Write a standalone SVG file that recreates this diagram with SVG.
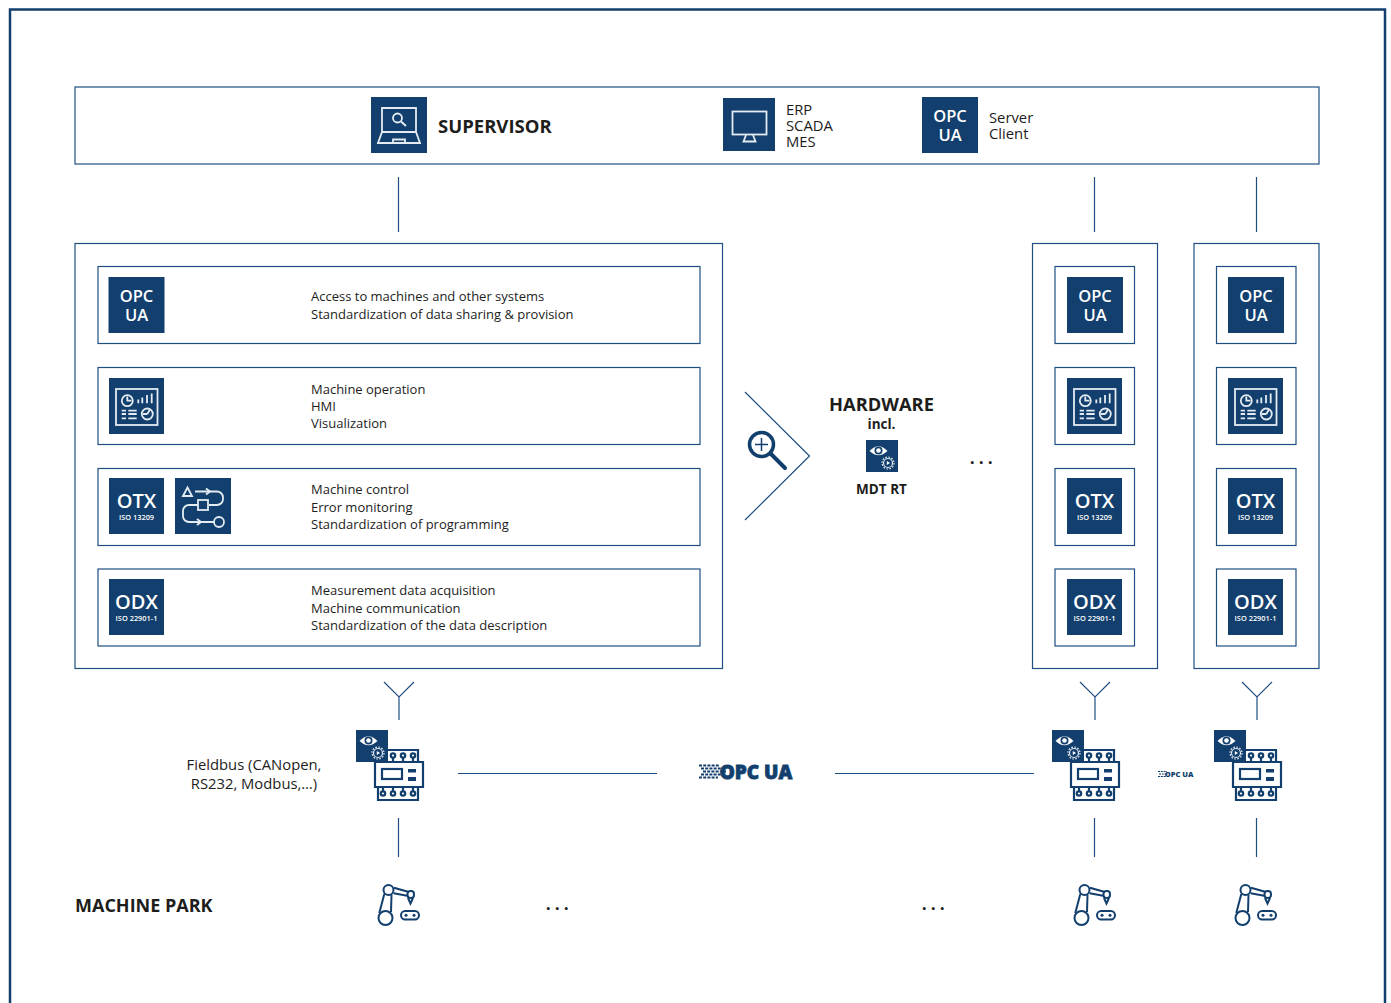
<svg xmlns="http://www.w3.org/2000/svg" width="1391" height="1003" viewBox="0 0 1391 1003">
<style>
text{font-family:"Open Sans","Noto Sans","Liberation Sans",sans-serif;fill:#1d1d1b}
.box{fill:#fff;stroke:#1f4f82;stroke-width:1.2}
.conn{fill:none;stroke:#1f4f82;stroke-width:1.2}
.tile{fill:#123f6d}
.w{fill:none;stroke:#e4ebf2;stroke-width:1.8}
.wt{fill:#fff;font-weight:600;text-anchor:middle}
.d{fill:none;stroke:#123f6d;stroke-width:2.2}
.body{font-size:13px}
.side{font-size:14.800px}
.dots{font-size:20px;font-weight:600;letter-spacing:3.500px;text-anchor:middle}
.h{font-weight:700}
.logo{fill:#123f6d;font-weight:800;text-anchor:middle}
</style>
<defs>
<g id="opc"><rect class="tile" width="56" height="56"/><text class="wt" x="28" y="25" font-size="16.500">OPC</text><text class="wt" x="28" y="44" font-size="16.500">UA</text></g>
<g id="hmi"><rect class="tile" width="55" height="56"/><g class="w"><rect x="7" y="11" width="41.500" height="36"/><circle cx="18.300" cy="22.700" r="5.500"/><path d="M18.300 18.500V22.700H22.500M29.300 25.300V21.500M33.300 25.300V19.500M38 25.300V17M42.700 25.300V15.500M12.700 32.700H17M19.300 32.700H27.700M12.700 36H17M19.300 36H27.700M12.700 40.300H17M19.300 40.300H27.700"/><circle cx="38.300" cy="36" r="5.500"/><path d="M38.300 36L41 31.500M38.300 36H34"/></g></g>
<g id="otx"><rect class="tile" width="55" height="56"/><text class="wt" x="27.500" y="30" font-size="20">OTX</text><text class="wt" x="27.500" y="42" font-size="7.400">ISO 13209</text></g>
<g id="odx"><rect class="tile" width="55" height="56"/><text class="wt" x="27.500" y="30" font-size="20">ODX</text><text class="wt" x="27.500" y="42" font-size="7.400">ISO 22901-1</text></g>
<g id="flow"><rect class="tile" width="56" height="56"/><g class="w"><path d="M8 18L12.500 9.500L17 18Z"/><path d="M20 13.500H42A6 6 0 0 1 48 19.500V21A6 6 0 0 1 42 27H34M23 27H14A6 6 0 0 0 8 33V38A6 6 0 0 0 14 44H39"/><rect x="23" y="22" width="10" height="10"/><circle cx="44" cy="44" r="5"/><path d="M31 10.500L35 13.500L31 16.500M22 41L26 44L22 47"/></g></g>
<g id="mdt"><rect class="tile" width="32" height="32"/><path d="M3.500 11Q12.500 1.500 21.500 11Q12.500 19.500 3.500 11Z" fill="#fff"/><circle cx="12.500" cy="10.500" r="4" fill="#123f6d"/><circle cx="12.500" cy="10.500" r="2.300" fill="#fff"/><circle cx="22" cy="23" r="4.500" class="w" style="stroke-width:1.200"/><circle cx="22" cy="23" r="6" fill="none" stroke="#e4ebf2" stroke-width="1.200" stroke-dasharray="1.600 1.500"/><path d="M20.800 21L24 23L20.800 25Z" fill="#fff"/></g>
<g id="device"><g class="d"><path d="M3 12V0H43V12M0 12H48V37H0ZM3 37V50H43V37"/><rect x="7" y="19" width="20" height="10"/><path d="M18 12V8M28 12V8M38 12V8M8 37V41M18 37V41M28 37V41M38 37V41"/><circle cx="18" cy="5.500" r="2.200"/><circle cx="28" cy="5.500" r="2.200"/><circle cx="38" cy="5.500" r="2.200"/><circle cx="8" cy="43.500" r="2.200"/><circle cx="18" cy="43.500" r="2.200"/><circle cx="28" cy="43.500" r="2.200"/><circle cx="38" cy="43.500" r="2.200"/></g><rect x="33" y="19" width="8" height="3.500" fill="#123f6d"/><rect x="33" y="27" width="8" height="4" fill="#123f6d"/></g>
<g id="fieldbus"><use href="#device" x="19" y="20"/><use href="#mdt" x="0" y="0"/></g>
<g id="robot"><g fill="none" stroke="#123f6d" stroke-width="2"><circle cx="7" cy="33" r="7"/><circle cx="10" cy="5" r="5"/><path d="M5.800 9L0.800 28M13 10L12.500 27M15.500 2.700L29.500 6.700M15 8.300L28.800 10.700"/><rect x="29" y="6" width="6.500" height="7" rx="3"/><path d="M29.500 13L32 18.500L34.500 13"/><rect x="22.500" y="26" width="18" height="8.500" rx="4.200"/></g><circle cx="27.500" cy="30.200" r="1.500" fill="#123f6d"/><circle cx="35.500" cy="30.200" r="1.500" fill="#123f6d"/></g>
<path id="fork" class="conn" d="M0 0L15 15L30 0M15 15V38"/>
</defs>
<rect width="1391" height="1003" fill="#fff"/>
<path d="M10 1003V9.500H1385V1003" fill="none" stroke="#123f6d" stroke-width="2.500"/>

<g id="connectors">
<path class="conn" d="M398.500 177V232M1094.500 177V232M1256.500 177V232"/>
<path class="conn" d="M745 392L809.500 456L745 520"/>
<use href="#fork" x="384" y="682"/><use href="#fork" x="1080" y="682"/><use href="#fork" x="1242" y="682"/>
<path class="conn" d="M458 773.500H657M835 773.500H1034"/>
<path class="conn" d="M398.500 818V857M1094.500 818V857M1256.500 818V857"/>
</g>

<g id="supervisor">
<rect class="box" x="75" y="87" width="1244" height="77"/>
<g id="supervisor-icon"><rect class="tile" x="371" y="97" width="56" height="56"/><g class="w"><path d="M382 132V108H416V132M378 143L382 132H416L420 143ZM393 143V139.500H405V143"/><circle cx="397.500" cy="118" r="4.500"/><path d="M401 121.500L406 126" stroke-width="2"/></g></g>
<text class="h" x="438" y="133" font-size="18.500">SUPERVISOR</text>
<g id="erp-icon"><rect class="tile" x="723" y="98" width="52" height="53"/><g class="w"><rect x="732.500" y="111.500" width="34" height="23"/><path d="M746 135L743.500 141.500H755.500L753 135"/></g></g>
<text class="side" x="786" y="115">ERP</text><text class="side" x="786" y="131">SCADA</text><text class="side" x="786" y="147">MES</text>
<use href="#opc" x="922" y="97"/>
<text class="side" x="989" y="123">Server</text><text class="side" x="989" y="139">Client</text>
</g>

<g id="main-panel">
<rect class="box" x="75" y="243.500" width="647.500" height="425"/>
<rect class="box" x="98" y="266.500" width="602" height="77"/><use href="#opc" x="108.500" y="277"/>
<text class="body" x="311" y="301">Access to machines and other systems</text><text class="body" x="311" y="319">Standardization of data sharing &amp; provision</text>
<rect class="box" x="98" y="367.500" width="602" height="77"/><use href="#hmi" x="109" y="378"/>
<text class="body" x="311" y="394">Machine operation</text><text class="body" x="311" y="411">HMI</text><text class="body" x="311" y="428">Visualization</text>
<rect class="box" x="98" y="468.500" width="602" height="77"/><use href="#otx" x="109" y="478"/><use href="#flow" x="175" y="478"/>
<text class="body" x="311" y="494">Machine control</text><text class="body" x="311" y="512">Error monitoring</text><text class="body" x="311" y="529">Standardization of programming</text>
<rect class="box" x="98" y="569" width="602" height="77"/><use href="#odx" x="109" y="579"/>
<text class="body" x="311" y="595">Measurement data acquisition</text><text class="body" x="311" y="613">Machine communication</text><text class="body" x="311" y="630">Standardization of the data description</text>
</g>

<g id="zoom-icon" fill="none" stroke="#123f6d"><circle cx="761.500" cy="444.500" r="12" stroke-width="3.500"/><path d="M770.500 453.500L785 468" stroke-width="4" stroke-linecap="round"/><path d="M755 444.500H768M761.500 438V451" stroke-width="1.500"/></g>

<g id="hardware">
<text class="h" x="881.500" y="411" font-size="18.300" text-anchor="middle">HARDWARE</text>
<text class="h" x="881.500" y="429" font-size="13.500" text-anchor="middle">incl.</text>
<use href="#mdt" x="866" y="440"/>
<text class="h" x="881.500" y="494" font-size="13.500" text-anchor="middle">MDT RT</text>
</g>
<text id="dots-hw" class="dots" x="983" y="464">...</text>

<g id="column-a">
<rect class="box" x="1032.500" y="243.500" width="125" height="425"/>
<rect class="box" x="1055" y="266.500" width="79.500" height="77"/><use href="#opc" x="1067" y="277"/>
<rect class="box" x="1055" y="367.500" width="79.500" height="77"/><use href="#hmi" x="1067" y="378"/>
<rect class="box" x="1055" y="468.500" width="79.500" height="77"/><use href="#otx" x="1067" y="478"/>
<rect class="box" x="1055" y="569" width="79.500" height="77"/><use href="#odx" x="1067" y="579"/>
</g>
<g id="column-b">
<rect class="box" x="1194" y="243.500" width="125" height="425"/>
<rect class="box" x="1216.500" y="266.500" width="79.500" height="77"/><use href="#opc" x="1228" y="277"/>
<rect class="box" x="1216.500" y="367.500" width="79.500" height="77"/><use href="#hmi" x="1228" y="378"/>
<rect class="box" x="1216.500" y="468.500" width="79.500" height="77"/><use href="#otx" x="1228" y="478"/>
<rect class="box" x="1216.500" y="569" width="79.500" height="77"/><use href="#odx" x="1228" y="579"/>
</g>

<g id="fieldbus-row">
<text class="side" x="254" y="770" text-anchor="middle">Fieldbus (CANopen,</text>
<text class="side" x="254" y="789" text-anchor="middle">RS232, Modbus,…)</text>
<use href="#fieldbus" x="356" y="730"/><use href="#fieldbus" x="1052" y="730"/><use href="#fieldbus" x="1214" y="730"/>
<g id="opcua-logo"><path d="M699 765.500H720M701 768.500H724M703 771.500H726M701 774.500H722M699 777.500H718" stroke="#123f6d" stroke-width="1.800" stroke-dasharray="3 1.200"/><text class="logo" x="756" y="779" font-size="19" stroke="#123f6d" stroke-width=".8">OPC UA</text></g>
<g id="opcua-logo-small"><path d="M1158 771.500H1167M1159 774H1168M1158 776.500H1166" stroke="#123f6d" stroke-width="1" stroke-dasharray="2 .8"/><text class="logo" x="1179" y="777" font-size="7.500">OPC UA</text></g>
</g>

<g id="machine-park">
<text class="h" x="75" y="912" font-size="18">MACHINE PARK</text>
<use href="#robot" x="378.500" y="885"/><use href="#robot" x="1074.500" y="885"/><use href="#robot" x="1235.500" y="885"/>
<text class="dots" x="559" y="910">...</text>
<text class="dots" x="935" y="910">...</text>
</g>
</svg>
